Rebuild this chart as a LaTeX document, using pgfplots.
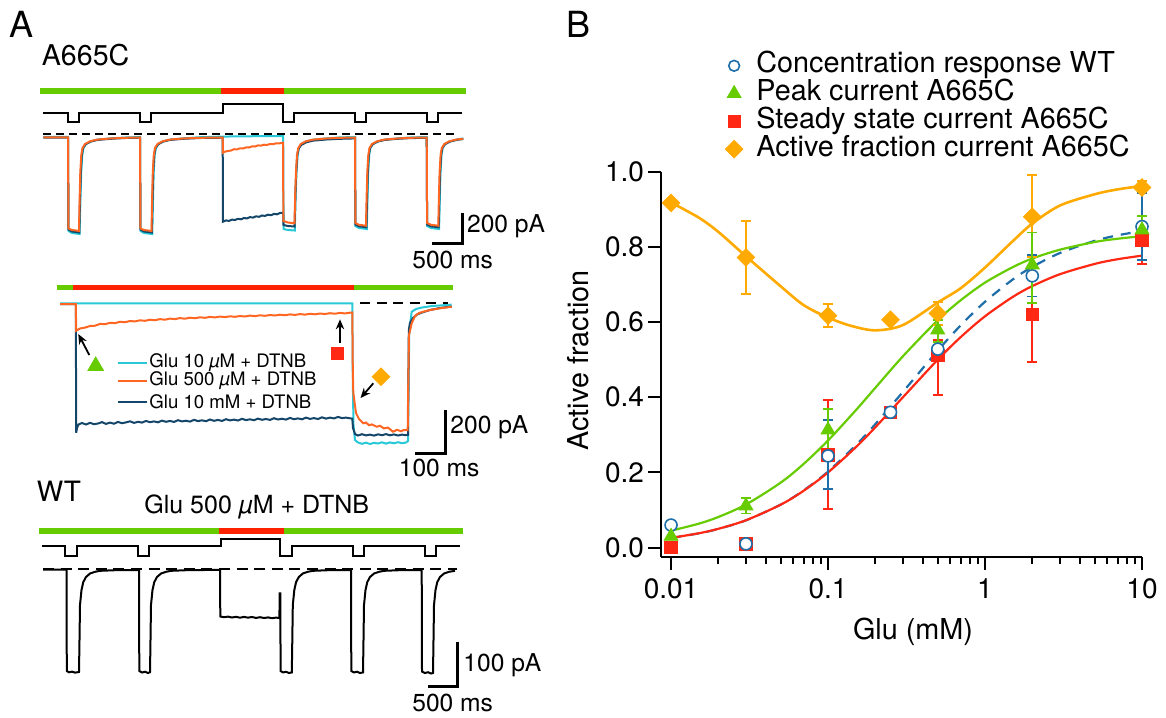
\documentclass[border=0pt]{standalone}
\usepackage{fontspec}
\setmainfont{TeX Gyre Heros}
\usepackage{pgfplots}
\pgfplotsset{compat=1.18}
\usetikzlibrary{arrows.meta}

\definecolor{barG}{RGB}{102,204,0}
\definecolor{barR}{RGB}{255,34,0}
\definecolor{trO}{RGB}{255,102,34}
\definecolor{trC}{RGB}{40,200,215}
\definecolor{trB}{RGB}{20,70,105}
\definecolor{wtB}{RGB}{30,110,170}
\definecolor{pkG}{RGB}{102,204,0}
\definecolor{ssR}{RGB}{255,40,20}
\definecolor{afO}{RGB}{255,170,0}

\newcommand{\fs}[1]{\fontsize{#1}{#1}\selectfont}

\begin{document}
\begin{tikzpicture}
\useasboundingbox (0,0) rectangle (583pt,-358.5pt);

% ---------- panel A : traces, in picture pixel units ----------
\begin{axis}[
    at={(0pt,0pt)}, anchor=north west,
    width=583pt, height=358.5pt, scale only axis,
    xmin=0, xmax=1166, ymin=0, ymax=717, y dir=reverse,
    hide axis, clip=false,
    every axis plot/.append style={line join=miter},
]
% solution bars
\addplot[barG, line width=2.8pt] coordinates {(40,91)(220.7,91)};
\addplot[barR, line width=2.8pt] coordinates {(220.7,91)(284,91)};
\addplot[barG, line width=2.8pt] coordinates {(284,91)(465.7,91)};
\addplot[barG, line width=2.8pt] coordinates {(57.3,287.3)(72.7,287.3)};
\addplot[barR, line width=2.8pt] coordinates {(72.7,287.3)(354,287.3)};
\addplot[barG, line width=2.8pt] coordinates {(354,287.3)(452.7,287.3)};
\addplot[barG, line width=2.8pt] coordinates {(39,530.7)(219,530.7)};
\addplot[barR, line width=2.8pt] coordinates {(219,530.7)(284,530.7)};
\addplot[barG, line width=2.8pt] coordinates {(284,530.7)(462.7,530.7)};

% command protocol
\addplot[black, line width=0.9pt] coordinates {
(43.3,112.7)(67.7,112.7)(67.7,122.3)(79,122.3)(79,112.7)(140,112.7)(140,122.3)(151,122.3)(151,112.7)
(222.7,112.7)(222.7,104.3)(283.3,104.3)(283.3,122.3)(294,122.3)(294,112.7)(355,112.7)(355,122.3)
(366,122.3)(366,112.7)(427.3,112.7)(427.3,122.3)(438.3,122.3)(438.3,112.7)(462.3,112.7)};
\addplot[black, line width=0.9pt] coordinates {
(41.7,546)(65,546)(65,556)(77.3,556)(77.3,546)(137.7,546)(137.7,556)(149,556)(149,546)
(220.7,546)(220.7,539)(280,539)(280,556)(292.3,556)(292.3,546)(352.7,546)(352.7,556)
(364,556)(364,546)(425,546)(425,556)(435.7,556)(435.7,546)(460,546)};

% top block, A665C
\addplot[trC, line width=1pt] coordinates {
(43.3,136.8)(68,136.8)(68.5,231)(72,233)(76,233.5)(79.6,234)(80.4,200)(81.2,172)(82.3,155)(83.5,148)(86,144)(91,141.3)(98,139.6)(111,138.3)(125,137.5)(140,137)
(140.5,231)(144,233)(148,233.5)(152.3,234)(153,200)(153.7,172)(154.7,155)(156,148)(158.5,144)(163.5,141.3)(170.5,139.6)(183.5,138.3)(200,137.2)(222.7,136.6)
(240,136.3)(260,136.2)(283.2,136.2)(283.6,229)(288,230)(294.8,230.5)(295.6,195)(296.5,172)(297.6,155)(299,148)(301.5,144)(306.5,141.3)(313.5,139.6)(326.5,138.3)(340,137.4)(355,137)
(355.4,226)(359,228)(363,228.5)(366.8,229)(367.5,198)(368.2,172)(369.2,155)(370.4,148)(373,144)(378,141.3)(385,139.6)(398,138.3)(410,137.5)(426.7,137)
(427.1,226)(431,228)(435,228.5)(439.1,229)(439.8,198)(440.5,172)(441.5,155)(442.7,148)(445.2,144)(450.2,141.3)(457,139.6)(463.3,138.3)};
\addplot[trB, line width=1pt] coordinates {
(43.3,137.6)(68,137.6)(68.5,229.5)(72,231.5)(76,232)(79.3,232.5)(80,200)(80.8,172)(81.8,155)(83,148)(85.5,144.3)(90.5,141.6)(97.5,139.9)(110.5,138.8)(125,138)(140,137.7)
(140.5,229.5)(144,231.5)(148,232)(151.8,232.5)(152.5,200)(153.2,172)(154.2,155)(155.4,148)(158,144.3)(163,141.6)(170,139.9)(183,138.8)(200,138)(222.7,137.7)
(222.9,221.7)(226,220.4)(229,220.9)(232,219.6)(235,220)(238,218.8)(241,219.3)(244,218)(247,218.4)(250,217.1)(253,217.6)(256,216.3)(259,216.8)(262,215.5)(265,215.9)(268,214.7)(271,215.2)(274,213.9)(277,214.3)(280,213)(283.2,212.7)
(283.5,225)(288,226)(294.6,226.5)(295.4,195)(296.2,172)(297.3,155)(298.6,148.5)(301.2,145)(306.2,142.3)(313.2,140.6)(326.2,139.5)(340,138.8)(355,138.4)
(355.4,224.5)(359,226.3)(363,226.8)(366.4,227.2)(367.1,198)(367.8,172)(368.8,155)(370,148)(372.6,144.3)(377.6,141.6)(384.6,139.9)(397.6,138.8)(410,138.1)(426.7,137.8)
(427.1,224.5)(431,226.3)(435,226.8)(438.7,227.2)(439.4,198)(440.1,172)(441.1,155)(442.3,148)(444.8,144.3)(449.8,141.6)(456.6,139.9)(463.3,139)};
\addplot[trO, line width=1pt] coordinates {
(43.3,137.3)(68,137.3)(68.5,228.5)(72,230)(76,230.5)(79,231)(79.6,200)(80.3,172)(81.3,155)(82.5,148)(85,144)(90,141.3)(97,139.6)(110,138.5)(125,137.8)(140,137.5)
(140.5,228.5)(144,230)(148,230.5)(151.5,231)(152.1,200)(152.8,172)(153.8,155)(155,148)(157.5,144)(162.5,141.3)(169.5,139.6)(182.5,138.5)(200,137.8)(222.7,137.5)
(222.9,152.7)(225,151.6)(228,151)(231,150.5)(234,149.2)(237,149.4)(240,148.3)(243,148.5)(246,147.4)(249,147.5)(252,146.4)(255,146.5)(258,145.4)(261,145.6)(264,144.7)(267,144.9)(270,144)(273,144.2)(276,143.3)(279,143.4)(283,142.7)
(283.4,221)(288,222.5)(294.5,223.3)(295.2,195)(296,172)(297,155)(298.3,148)(300.8,144)(305.8,141.3)(313,139.6)(326,138.5)(340,137.8)(355,137.5)
(355.4,223)(359,224.8)(363,225.3)(366,225.7)(366.6,198)(367.3,172)(368.3,155)(369.5,148)(372,144)(377,141.3)(384,139.6)(397,138.5)(410,137.8)(426.7,137.5)
(427.1,223)(431,224.8)(435,225.3)(438.3,225.7)(438.9,198)(439.6,172)(440.6,155)(441.8,148)(444.3,144)(449.3,141.3)(456,139.6)(463.3,138.8)};
\addplot[black, line width=1pt, dash pattern=on 4pt off 2.5pt] coordinates {(43.3,134.3)(458.3,134.3)};

% middle block
\addplot[trC, line width=1pt] coordinates {
(60,303.3)(352.3,303.3)(352.8,380)(353.5,425)(355,440)(358,442.5)(362,443.8)(366,442.6)(370,444)(374,442.8)(378,443.5)(382,442.3)(386,443.6)(390,442.4)(394,443.3)(398,442.2)(402,443.2)(406,442.5)(408,441)
(408.6,380)(409.3,330)(411.7,311.7)(416,309)(422,307.5)(432,306)(442,305.3)(451.7,304.6)};
\addplot[trB, line width=1pt] coordinates {
(60,304)(75.8,304)(76.2,432.7)(77,428)(78.5,424.5)(82,423)(86,424.5)(90,422.8)(94,424.2)(98,423.5)(102,422.1)(106,423.9)(110,422.6)(114,423.7)(118,421.9)(122,423.2)(126,422.4)(130,421.3)(134,422.9)(138,421.8)(142,422.6)(146,420.9)(150,422.2)(154,421.4)(158,422.3)(162,420.6)(166,421.8)(170,420.9)(174,421.9)(178,420.2)(182,421.4)(186,420.7)(190,421.6)(194,419.8)(198,421.1)(202,420.3)(206,421.2)(210,419.5)(214,420.8)(218,419.9)(222,420.9)(226,419.2)(230,420.4)(234,419.6)(238,420.5)(242,418.8)(246,420.1)(250,419.3)(254,420.2)(258,418.6)(262,419.8)(266,419)(270,419.9)(274,418.2)(278,419.5)(282,418.7)(286,419.6)(290,417.9)(294,419.2)(298,418.4)(302,419.3)(306,417.6)(310,418.9)(314,418.1)(318,419)(322,417.3)(326,418.6)(330,417.6)(334,418.4)(338,416.9)(342,418.1)(346,417.6)(350,418.3)(352.3,418.6)
(353,428)(355,434)(358,435.5)(362,434.2)(366,435.4)(370,434.6)(374,435.6)(378,434.3)(382,435.2)(386,434.1)(390,435.3)(394,434.4)(398,435.5)(402,434.6)(406,435.2)(408,434.8)
(408.4,380)(408.8,330)(410,323)(413,318)(417,314.5)(422,312.5)(430,310)(440,308)(451.7,306.5)};
\addplot[trO, line width=1pt] coordinates {
(60,304)(75.8,304)(76.2,330.7)(80,328.5)(85,327.6)(90,326)(95,325.7)(100,323.9)(105,324.2)(110,322.8)(115,323.1)(120,321.8)(125,322.2)(130,321)(135,321.4)(140,320.3)(145,320.8)(150,319.7)(155,320.2)(160,319.1)(165,319.7)(170,318.6)(175,319.1)(180,318.1)(185,318.7)(190,317.7)(195,318.2)(200,317.3)(205,317.8)(210,316.9)(215,317.4)(220,316.6)(225,317.1)(230,316.3)(235,316.8)(240,316)(245,316.5)(250,315.6)(255,316.1)(260,315.3)(265,315.8)(270,315)(275,315.5)(280,314.7)(285,315.2)(290,314.4)(295,314.9)(300,314.1)(305,314.6)(310,313.8)(315,314.3)(320,313.5)(325,314)(330,313.2)(335,313.7)(340,312.9)(345,313.4)(350,312.7)(352.3,312.5)
(352.8,370)(353.3,393)(356,413)(359,419)(363.3,423.3)(366,422.5)(369,425.2)(372,424.4)(376.7,426.7)(380,425.8)(384,428.4)(388,427.6)(393,431.7)(397,429.8)(401,431.2)(404,430)(407.7,430.2)
(408.3,380)(409,335)(411.7,323.3)(415,316)(419,313)(423.3,311.7)(430,310)(440,308.3)(451.7,306.7)};
\addplot[black, line width=1pt, dash pattern=on 5pt off 3.3pt] coordinates {(360,303.3)(448.3,303.3)};

% markers and arrows of the middle block
\addplot[only marks, mark=triangle*, mark size=4.5pt, color=pkG] coordinates {(95.7,366)};
\addplot[only marks, mark=square*, mark size=3.2pt, color=ssR] coordinates {(337.3,353.3)};
\addplot[only marks, mark=square*, mark size=3.1pt, color=afO, mark options={rotate=45}] coordinates {(381,376.7)};
\addplot[black, line width=0.9pt, -{Stealth[length=5pt,width=4.2pt]}] coordinates {(89.3,355)(78.3,334)};
\addplot[black, line width=0.9pt, -{Stealth[length=5pt,width=4.2pt]}] coordinates {(340,342.7)(340,319.3)};
\addplot[black, line width=0.9pt, -{Stealth[length=5pt,width=4.2pt]}] coordinates {(373.3,383.3)(360.5,398)};

% legend of the middle block
\addplot[trC, line width=1pt] coordinates {(118.3,362.7)(146.7,362.7)};
\addplot[trO, line width=1pt] coordinates {(118.3,380.7)(146.7,380.7)};
\addplot[trB, line width=1pt] coordinates {(118.3,401.7)(146.7,401.7)};

% bottom block, WT
\addplot[black, line width=1pt] coordinates {
(43,569.5)(66.5,569.5)(66.8,671)(69,672.3)(72,671.6)(75,672.6)(79,672)
(79.5,640)(80,605)(81.5,590)(83.3,582)(86,577)(90,573.5)(95,571.8)(100,570.8)(115,570.2)(139,570)
(139.3,671)(142,672.5)(145,671.7)(148,673)(150,672.2)(150.5,640)(151,605)(152.5,590)(154.3,582)(157,577)(161,573.5)(166,571.8)(171,570.8)(186,570.2)(220,569.8)
(220.3,616.5)(224,617.2)(228,616.6)(232,617.5)(236,616.8)(240,617.7)(244,616.9)(248,617.6)(252,617)(256,617.9)(260,617.2)(264,618)(268,617.4)(272,618.2)(276,617.6)(279.4,618)
(279.7,593.3)(280.3,593.3)(280.6,671)(283,672.4)(286,671.8)(289,673)(291.8,672.4)
(292.3,640)(292.8,605)(294.3,590)(296.1,582)(298.8,577)(302.8,573.5)(307.8,571.8)(312.8,570.8)(327.8,570.2)(351,570)
(351.3,671)(354,672.4)(357,671.7)(360,673)(363,672.4)(363.5,640)(364,605)(365.5,590)(367.3,582)(370,577)(374,573.5)(379,571.8)(384,570.8)(399,570.2)(421.7,570)
(422,671.5)(425,673)(428,672.2)(431,673.5)(433,673)(433.5,640)(434,605)(435.5,590)(437.3,582)(440,577)(444,573.5)(449,571.8)(455,570.8)};
\addplot[black, line width=1pt, dash pattern=on 5.5pt off 3.3pt] coordinates {(43,569.3)(456.7,569.3)};

% scale bars
\addplot[black, line width=1.5pt] coordinates {(462.7,212.7)(462.7,243.3)(431.7,243.3)};
\addplot[black, line width=1.5pt] coordinates {(445,410)(445,453.3)(415,453.3)};
\addplot[black, line width=1.5pt] coordinates {(457.3,641.7)(457.3,686.7)(428.3,686.7)};

% texts of panel A
\node[anchor=center, font=\fs{18}] at (axis cs:21.5,24) {A};
\node[anchor=center, font=\fs{18}] at (axis cs:578,24) {B};
\node[anchor=west, font=\fs{14.3}, inner sep=0pt] at (axis cs:41.5,55.3) {A665C};
\node[anchor=west, font=\fs{14}, inner sep=0pt] at (axis cs:36.5,491) {WT};
\node[anchor=center, font=\fs{12.5}] at (axis cs:256.7,506.7) {Glu 500 {\itshape µ}M + DTNB};
\node[anchor=west, font=\fs{12.3}, inner sep=0pt] at (axis cs:466.7,226.7) {200 pA};
\node[anchor=center, font=\fs{12.3}] at (axis cs:452.7,260) {500 ms};
\node[anchor=west, font=\fs{12.3}, inner sep=0pt] at (axis cs:450,426.7) {200 pA};
\node[anchor=center, font=\fs{12.3}] at (axis cs:439.2,468.3) {100 ms};
\node[anchor=west, font=\fs{12.3}, inner sep=0pt] at (axis cs:463,665) {100 pA};
\node[anchor=center, font=\fs{12.3}] at (axis cs:452.7,703) {500 ms};
\node[anchor=west, font=\fs{9.3}, inner sep=0pt] at (axis cs:149,362.7) {Glu 10 {\itshape µ}M + DTNB};
\node[anchor=west, font=\fs{9.3}, inner sep=0pt] at (axis cs:149,380.7) {Glu 500 {\itshape µ}M + DTNB};
\node[anchor=west, font=\fs{9.3}, inner sep=0pt] at (axis cs:149,401.7) {Glu 10 mM + DTNB};
\end{axis}

% ---------- panel B : concentration response ----------
\begin{axis}[
    at={(330.5pt,-278.5pt)}, anchor=south west,
    width=240.5pt, height=192.65pt, scale only axis,
    xmode=log, xmin=0.00863, xmax=10, ymin=-0.025, ymax=1.0,
    axis lines=left, axis line style={-, line width=1pt},
    clip=false,
    xtick={0.01,0.1,1,10}, xticklabels={0.01,0.1,1,10},
    minor xtick={0.02,0.03,0.04,0.05,0.06,0.07,0.08,0.09,0.2,0.3,0.4,0.5,0.6,0.7,0.8,0.9,2,3,4,5,6,7,8,9},
    ytick={0,0.2,0.4,0.6,0.8,1.0},
    /pgf/number format/assume math mode=true,
    tick align=outside, major tick length=6.5pt, minor tick length=3.5pt,
    tick style={line width=1pt, black},
    ticklabel style={font=\fs{14}},
    yticklabel style={xshift=1.5pt, /pgf/number format/.cd, fixed, fixed zerofill, precision=1},
    xticklabel style={yshift=-1pt},
    xlabel={Glu (mM)}, ylabel={Active fraction},
    label style={font=\fs{14.4}},
    xlabel style={at={(axis description cs:0.524,-0.194)}, anchor=center},
    ylabel style={at={(axis description cs:-0.1726,0.51)}, anchor=center},
    legend style={at={(0.133,1.312)}, anchor=north west, draw=none, fill=none,
        font=\fs{14.4}, inner sep=0pt, row sep=0pt,
        nodes={inner sep=0.25pt, text height=10.3pt, text depth=3.1pt},
        /tikz/every odd column/.append style={column sep=6.5pt}},
    legend cell align=left,
]
% fitted curves
\addplot[afO, line width=1.3pt, smooth, forget plot] coordinates {
(0.01,0.918)(0.015,0.878)(0.02,0.84)(0.03,0.775)(0.05,0.695)(0.07,0.645)(0.1,0.612)(0.14,0.59)(0.2,0.578)
(0.3,0.592)(0.5,0.652)(0.7,0.69)(1,0.745)(1.5,0.815)(2,0.862)(3,0.91)(5,0.94)(7,0.953)(10,0.962)};
\addplot[wtB, line width=1.1pt, smooth, dash pattern=on 5pt off 4pt, forget plot] coordinates {
(0.01,0.0256)(0.015,0.0378)(0.02,0.0497)(0.03,0.0725)(0.05,0.1145)(0.07,0.1523)(0.1,0.2023)(0.15,0.2719)(0.2,0.3283)(0.3,0.4143)
(0.5,0.5241)(0.7,0.5913)(1,0.6541)(1.5,0.7131)(2,0.7468)(3,0.7837)(5,0.8161)(7,0.8308)(10,0.8422)};
\addplot[ssR, line width=1.1pt, smooth, forget plot] coordinates {
(0.01,0.0258)(0.015,0.0381)(0.02,0.05)(0.03,0.0727)(0.05,0.1143)(0.07,0.1514)(0.1,0.2)(0.15,0.2667)(0.2,0.32)(0.3,0.4)
(0.5,0.5)(0.7,0.56)(1,0.6154)(1.5,0.6667)(2,0.6957)(3,0.7273)(5,0.7547)(7,0.7672)(10,0.7767)};
\addplot[pkG, line width=1.1pt, smooth, forget plot] coordinates {
(0.01,0.045)(0.015,0.0636)(0.02,0.0814)(0.03,0.1146)(0.05,0.173)(0.07,0.2228)(0.1,0.285)(0.15,0.365)(0.2,0.425)(0.3,0.509)
(0.5,0.605)(0.7,0.658)(1,0.705)(1.5,0.746)(2,0.769)(3,0.7925)(5,0.813)(7,0.8217)(10,0.8285)};

% error bars
\pgfplotsset{ebar/.style={draw=none, mark=none, forget plot,
    error bars/.cd, y dir=both, y explicit,
    error bar style={line width=0.9pt, color=#1},
    error mark options={rotate=90, mark size=2.5pt, line width=0.9pt, color=#1}}}
\addplot[ebar=afO] coordinates {
(0.03,0.772) +- (0,0.097) (0.1,0.617) +- (0,0.03) (0.5,0.623) += (0,0.031) -= (0,0.03)
(2,0.880) += (0,0.111) -= (0,0.106) (10,0.958) += (0,0.017) -= (0,0.013)};
\addplot[ebar=ssR] coordinates {
(0.1,0.247) += (0,0.146) -= (0,0.144) (0.5,0.512) += (0,0.04) -= (0,0.106)
(2,0.621) += (0,0.126) -= (0,0.128) (10,0.818) += (0,0.065) -= (0,0.063)};
\addplot[ebar=wtB] coordinates {
(0.1,0.244) += (0,0.096) -= (0,0.089) (2,0.723) +- (0,0.055) (10,0.854) +- (0,0.089)};
\addplot[ebar=pkG] coordinates {
(0.03,0.111) +- (0,0.02) (0.1,0.313) +- (0,0.056) (0.5,0.579) += (0,0.026) -= (0,0.031)
(2,0.752) += (0,0.086) -= (0,0.102) (10,0.845) +- (0,0.037)};

% data points
\addplot[only marks, mark=square*, mark size=3.1pt, color=afO, mark options={rotate=45}, forget plot] coordinates {
(0.01,0.917)(0.03,0.772)(0.1,0.617)(0.25,0.606)(0.5,0.623)(2,0.880)(10,0.958)};
\addplot[only marks, mark=square*, mark size=3.1pt, color=ssR, forget plot] coordinates {
(0.01,0.0)(0.03,0.01)(0.1,0.247)(0.25,0.36)(0.5,0.512)(2,0.621)(10,0.818)};
\addplot[only marks, mark=*, mark size=3pt, mark options={draw=wtB, fill=white, line width=0.8pt}, forget plot] coordinates {
(0.01,0.06)(0.03,0.01)(0.1,0.244)(0.25,0.36)(0.5,0.528)(2,0.723)(10,0.854)};
\addplot[only marks, mark=triangle*, mark size=4pt, color=pkG, forget plot] coordinates {
(0.01,0.03)(0.03,0.111)(0.1,0.313)(0.5,0.579)(2,0.752)(10,0.845)};

% legend
\addlegendimage{only marks, mark=*, mark size=2.7pt, mark options={draw=wtB, fill=white, line width=0.8pt}}
\addlegendentry{Concentration response WT}
\addlegendimage{only marks, mark=triangle*, mark size=4pt, color=pkG}
\addlegendentry{Peak current A665C}
\addlegendimage{only marks, mark=square*, mark size=3.1pt, color=ssR}
\addlegendentry{Steady state current A665C}
\addlegendimage{only marks, mark=square*, mark size=3.1pt, color=afO, mark options={rotate=45}}
\addlegendentry{Active fraction current A665C}
\end{axis}
\end{tikzpicture}
\end{document}
